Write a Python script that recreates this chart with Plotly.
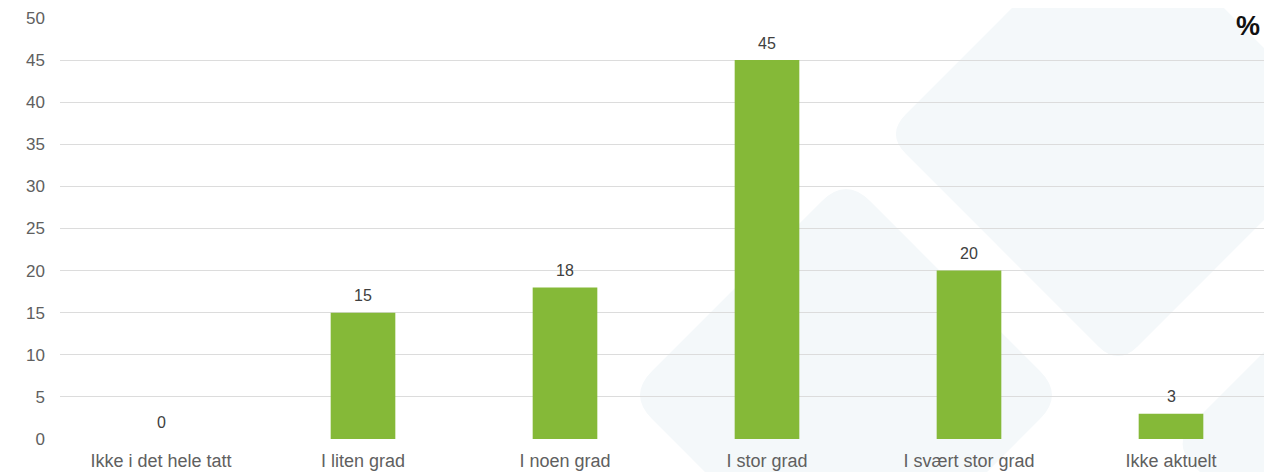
import plotly.graph_objects as go

categories = ["Ikke i det hele tatt", "I liten grad", "I noen grad", "I stor grad", "I svært stor grad", "Ikke aktuelt"]
values = [0, 15, 18, 45, 20, 3]
y_ticks = [0, 5, 10, 15, 20, 25, 30, 35, 40, 45, 50]

# page has an 8px body margin: figure is drawn from (8, 8) in the window
OFF = 8
W, H = 1272 - OFF, 472 - OFF
PLOT_X0, PLOT_Y0, PLOT_Y1 = 60, 18, 439  # window pixel coords of plot area
L = PLOT_X0 - OFF
T = PLOT_Y0 - OFF
R = 0
PW = W - L - R
PH = PLOT_Y1 - PLOT_Y0
B = H - T - PH


def to_paper(x, y):
    return (x - PLOT_X0) / PW, (PLOT_Y1 - y) / PH


def rounded_diamond(cx, cy, h, t):
    verts = [(cx, cy - h), (cx + h, cy), (cx, cy + h), (cx - h, cy)]
    n = len(verts)
    pts = []
    for i in range(n):
        v = verts[i]
        p = verts[i - 1]
        q = verts[(i + 1) % n]

        def along(a, b):
            dx, dy = b[0] - a[0], b[1] - a[1]
            d = (dx * dx + dy * dy) ** 0.5
            return (a[0] + dx / d * t, a[1] + dy / d * t)
        pts.append((along(v, p), v, along(v, q)))
    path = ""
    for i, (a, v, b) in enumerate(pts):
        ax, ay = to_paper(*a)
        vx, vy = to_paper(*v)
        bx, by = to_paper(*b)
        path += ("M " if i == 0 else "L ") + f"{ax:.5f},{ay:.5f} "
        path += f"Q {vx:.5f},{vy:.5f} {bx:.5f},{by:.5f} "
    return path + "Z"


bg_fill = "#f4f8fa"
shapes = [
    dict(type="path", xref="paper", yref="paper", layer="below",
         path=rounded_diamond(1118, 134, 232, 28), fillcolor=bg_fill, line=dict(width=0)),
    dict(type="path", xref="paper", yref="paper", layer="below",
         path=rounded_diamond(846, 395, 218, 34), fillcolor=bg_fill, line=dict(width=0)),
    dict(type="path", xref="paper", yref="paper", layer="below",
         path=rounded_diamond(1404, 444, 232, 30), fillcolor=bg_fill, line=dict(width=0)),
]

FONT = "Liberation Sans, Arial, sans-serif"

fig = go.Figure()
fig.add_trace(go.Bar(
    x=categories,
    y=values,
    marker=dict(color="#85b938", line=dict(width=0)),
    hoverinfo="skip",
))

for c, v in zip(categories, values):
    fig.add_annotation(
        x=c, y=v, xref="x", yref="y",
        text=str(v), showarrow=False,
        yanchor="middle", yshift=17,
        font=dict(family=FONT, size=16, color="#404040"),
    )

px_, py_ = to_paper(1248, 26)
fig.add_annotation(
    x=px_, y=py_, xref="paper", yref="paper",
    text="<b>%</b>", showarrow=False,
    font=dict(family=FONT, size=27, color="#111111"),
    xanchor="center", yanchor="middle",
)

fig.update_layout(
    width=W, height=H,
    margin=dict(l=L, r=R, t=T, b=B, pad=0),
    paper_bgcolor="white",
    plot_bgcolor="rgba(0,0,0,0)",
    bargap=0.68,
    showlegend=False,
    shapes=shapes,
    font=dict(family=FONT, size=16, color="#595959"),
    xaxis=dict(
        showgrid=False, showline=False, zeroline=False, ticks="",
        ticklabelstandoff=9,
        tickfont=dict(family=FONT, size=18, color="#606060"),
        fixedrange=True,
    ),
    yaxis=dict(
        range=[0, 50],
        tickvals=y_ticks,
        ticktext=[str(v) for v in y_ticks],
        showgrid=True, gridcolor="#dcdcdc", gridwidth=1,
        zeroline=False, showline=False, ticks="",
        ticklabelstandoff=14,
        tickfont=dict(family=FONT, size=17, color="#606060"),
        fixedrange=True,
    ),
)

fig.write_html("out.html")
